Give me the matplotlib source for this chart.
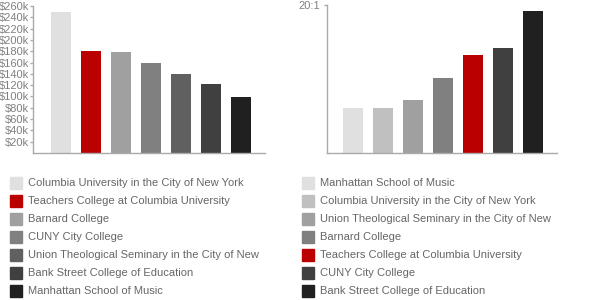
import matplotlib
matplotlib.use("Agg")
import matplotlib.pyplot as plt
from matplotlib.patches import Rectangle

plt.rcParams['font.family'] = ['Liberation Sans', 'DejaVu Sans']

# left chart: cost
cost_names = ["Columbia University in the City of New York",
              "Teachers College at Columbia University",
              "Barnard College",
              "CUNY City College",
              "Union Theological Seminary in the City of New",
              "Bank Street College of Education",
              "Manhattan School of Music"]
cost_vals = [249000, 180000, 178000, 160000, 140000, 121500, 99000]
cost_colors = ["#e0e0e0", "#bb0000", "#a0a0a0", "#808080", "#606060", "#404040", "#202020"]
cost_ticks = list(range(20000, 260001, 20000))
cost_labels = ["$%dk" % (t // 1000) for t in cost_ticks]

# right chart: student/faculty ratio
ratio_names = ["Manhattan School of Music",
               "Columbia University in the City of New York",
               "Union Theological Seminary in the City of New",
               "Barnard College",
               "Teachers College at Columbia University",
               "CUNY City College",
               "Bank Street College of Education"]
ratio_vals = [6.1, 6.1, 7.1, 10.1, 13.2, 14.2, 19.2]
ratio_colors = ["#e0e0e0", "#c0c0c0", "#a0a0a0", "#808080", "#bb0000", "#404040", "#202020"]
ratio_ticks = [20]
ratio_labels = ["20:1"]

W, H = 600, 300
fig = plt.figure(figsize=(6, 3), dpi=100)
axis_col = "#aaaaaa"
text_col = "#808080"


def setup(ax, ticks, labels, ymax, xleft, pad):
    ax.set_ylim(0, ymax)
    ax.set_xlim(xleft, 6.8)
    for s in ("top", "right"):
        ax.spines[s].set_visible(False)
    for s in ("left", "bottom"):
        ax.spines[s].set_color(axis_col)
        ax.spines[s].set_linewidth(1)
    ax.set_xticks([])
    ax.set_yticks(ticks)
    ax.set_yticklabels(labels)
    ax.tick_params(axis="y", length=2.5, width=1, color=axis_col, labelcolor=text_col,
                   labelsize=8, pad=pad)


ax1 = fig.add_axes([33 / W, 1 - 153 / H, (265 - 33) / W, 147 / H])
ax1.bar(range(len(cost_vals)), cost_vals, width=0.667, color=cost_colors)
setup(ax1, cost_ticks, cost_labels, 260000, -0.933, 0.3)

ax2 = fig.add_axes([327 / W, 1 - 152.5 / H, (557 - 327) / W, 147.5 / H])
ax2.bar(range(len(ratio_vals)), ratio_vals, width=0.667, color=ratio_colors)
setup(ax2, ratio_ticks, ratio_labels, 20, -0.867, 2.5)


def legend(x0, names, colors):
    for i, (n, c) in enumerate(zip(names, colors)):
        yc = 183 + 18 * i
        fig.patches.append(Rectangle((x0 / W, 1 - (yc + 6) / H), 12 / W, 12 / H,
                                     transform=fig.transFigure, color=c))
        fig.text((x0 + 18) / W, 1 - yc / H, n, fontsize=8, color="#666666",
                 va="center", ha="left")


legend(10, cost_names, cost_colors)
legend(302, ratio_names, ratio_colors)

fig.savefig("out.png", dpi=100)
